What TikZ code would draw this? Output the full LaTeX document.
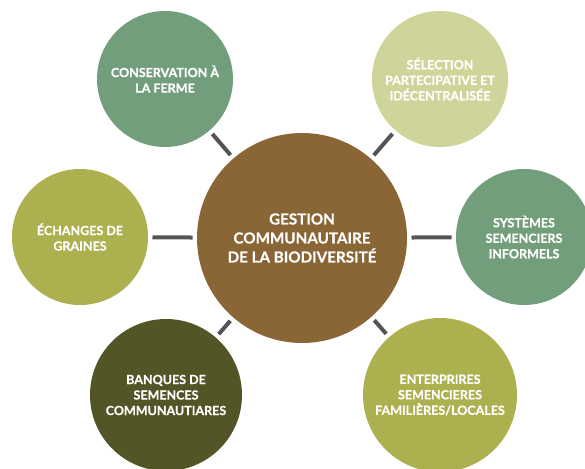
\documentclass[tikz,border=0pt]{standalone}
\usepackage{fontspec}
\setmainfont{Lato}[BoldFeatures={FakeBold=0.4}]
\definecolor{hubbrown}{HTML}{8A6535}
\definecolor{sage}{HTML}{739E7B}
\definecolor{palelime}{HTML}{CFD59A}
\definecolor{olive}{HTML}{ADB04E}
\definecolor{darkolive}{HTML}{535526}
\definecolor{linkgray}{HTML}{545454}
\begin{document}
\begin{tikzpicture}[x=1pt,y=-1pt,
  bubble/.style={circle,inner sep=0pt,outer sep=0pt,minimum size=136pt,
    text=white,align=center,font=\bfseries\fontsize{12.5}{15.5}\selectfont},
  hub/.style={bubble,minimum size=210pt,font=\bfseries\fontsize{15.2}{19}\selectfont},
  link/.style={draw=linkgray,line width=4pt,shorten >=4.5pt,shorten <=4.5pt}]
  \clip (0,0) rectangle (585,468);
  % central topic
  \node[hub,fill=hubbrown] (hub) at (302,238)
    {GESTION\\COMMUNAUTAIRE\\DE LA BIODIVERSITÉ};
  % surrounding topics
  \node[bubble,fill=sage] (farm) at (165,79) {CONSERVATION À\\LA FERME};
  \node[bubble,fill=palelime] (select) at (440,79)
    {SÉLECTION\\PARTECIPATIVE ET\\IDÉCENTRALISÉE};
  \node[bubble,fill=olive] (swap) at (80,237) {ÉCHANGES DE\\GRAINES};
  \node[bubble,fill=sage] (informal) at (524,237)
    {SYSTÈMES\\SEMENCIERS\\INFORMELS};
  \node[bubble,fill=darkolive,minimum size=152pt] (banks) at (166,395)
    {BANQUES DE\\SEMENCES\\COMMUNAUTIARES};
  \node[bubble,fill=olive,minimum size=154pt] (firms) at (440,395)
    {ENTERPRIRES\\SEMENCIERES\\FAMILIÈRES/LOCALES};
  % connectors
  \draw[link] (farm) -- (hub);
  \draw[link] (select) -- (hub);
  \draw[link] (swap) -- (hub);
  \draw[link] (informal) -- (hub);
  \draw[link] (banks) -- (hub);
  \draw[link] (firms) -- (hub);
\end{tikzpicture}
\end{document}
